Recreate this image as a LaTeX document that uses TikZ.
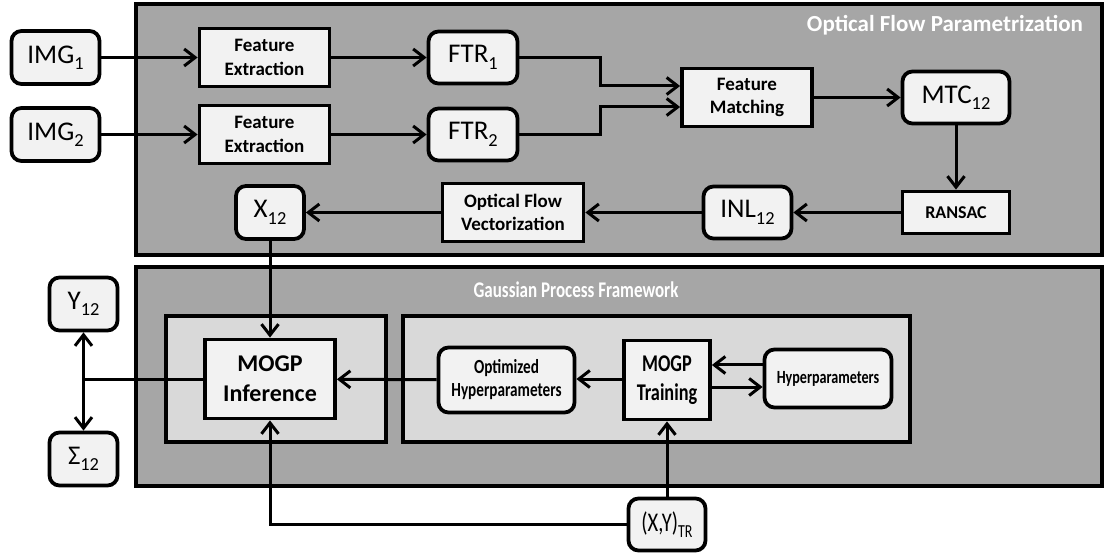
\documentclass[tikz,border=0pt]{standalone}
\usepackage{fontspec}
\setmainfont{Carlito}
\newfontfamily\condfont{Carlito}[FakeStretch=0.76]
\usetikzlibrary{arrows.meta,calc}
\definecolor{panelgray}{HTML}{A6A6A6}
\definecolor{innergray}{HTML}{D9D9D9}
\definecolor{boxfill}{HTML}{F2F2F2}
\newlength\sbsize
\makeatletter
% lowered subscript at about two thirds of the running size
\newcommand{\sbs}[1]{\setlength\sbsize{\f@size pt}\setlength\sbsize{0.68\sbsize}%
  \raisebox{-0.5ex}{\fontsize{\sbsize}{\sbsize}\selectfont #1}}
\makeatother
\tikzset{
  box/.style={draw, line width=1.9pt, fill=boxfill, inner sep=0pt, align=center},
  rbox/.style={box, rounded corners=5pt},
  big/.style={font=\fontsize{13.5}{15}\selectfont},
  proc/.style={box, font=\bfseries\fontsize{9.5}{11.8}\selectfont},
  conn/.style={line width=1.5pt},
  arr/.style={conn, -{Straight Barb[length=5.5pt,width=8.5pt,line width=1.5pt]}},
  panelbox/.style={draw, line width=1.8pt, fill=panelgray},
  innerbox/.style={draw, line width=1.8pt, fill=innergray},
  paneltitle/.style={text=white, font=\bfseries\fontsize{11.5}{13}\selectfont},
}
\begin{document}
\begin{tikzpicture}[x=0.5pt, y=-0.5pt]
\useasboundingbox (0,0) rectangle (1105,556);

% panels
\draw[panelbox] (136,4) rectangle (1102,255);
\draw[panelbox] (136,267) rectangle (1102,486);
\draw[innerbox] (166,316) rectangle (386,442);
\draw[innerbox] (403,316) rectangle (910,442);
\node[paneltitle] (t1) at (945,25) {Optical Flow Parametrization};
\node[paneltitle, font=\condfont\bfseries\fontsize{11.2}{13}\selectfont] (t2) at (576,290) {Gaussian Process Framework};

% optical flow nodes
\node[rbox, big, minimum width=44pt, minimum height=26.5pt] (img1) at (55.5,57.5) {IMG\sbs{1}};
\node[rbox, big, minimum width=44pt, minimum height=26.5pt] (img2) at (55.5,134.5) {IMG\sbs{2}};
\node[proc, minimum width=65pt, minimum height=29pt] (fe1) at (264.5,57.5) {Feature\\Extraction};
\node[proc, minimum width=65pt, minimum height=29pt] (fe2) at (264.5,134.5) {Feature\\Extraction};
\node[rbox, big, minimum width=44.5pt, minimum height=26pt] (ftr1) at (473,57.5) {FTR\sbs{1}};
\node[rbox, big, minimum width=44.5pt, minimum height=26pt] (ftr2) at (473,134.5) {FTR\sbs{2}};
\node[proc, minimum width=65pt, minimum height=29pt] (fm) at (747,97.5) {Feature\\Matching};
\node[rbox, big, minimum width=53.5pt, minimum height=26pt] (mtc) at (956,97.5) {MTC\sbs{12}};
\node[proc, font=\bfseries\fontsize{9}{11}\selectfont, minimum width=53.5pt, minimum height=21pt] (ransac) at (956,212.5) {RANSAC};
\node[rbox, big, minimum width=44pt, minimum height=26pt] (inl) at (747.5,212.5) {INL\sbs{12}};
\node[proc, minimum width=70.5pt, minimum height=29pt] (ofv) at (513,212.5) {Optical Flow\\Vectorization};
\node[rbox, big, minimum width=34pt, minimum height=26.5pt] (x12) at (270,212.5) {X\sbs{12}};

% gaussian process nodes
\node[rbox, big, minimum width=34pt, minimum height=26.5pt] (y12) at (83.5,304) {Y\sbs{12}};
\node[rbox, big, minimum width=34pt, minimum height=26.5pt] (s12) at (83.5,459) {Σ\sbs{12}};
\node[box, font=\bfseries\fontsize{12}{15}\selectfont, minimum width=65pt, minimum height=39.5pt] (inf) at (270,379) {MOGP\\Inference};
\node[rbox, font=\condfont\bfseries\fontsize{10}{11.5}\selectfont, minimum width=68pt, minimum height=32.5pt] (opt) at (506.5,380) {Optimized\\Hyperparameters};
\node[box, font=\condfont\bfseries\fontsize{12}{14.5}\selectfont, minimum width=43pt, minimum height=39.5pt] (trn) at (667,380) {MOGP\\Training};
\node[rbox, font=\condfont\bfseries\fontsize{9.3}{11}\selectfont, minimum width=63.5pt, minimum height=29pt] (hyp) at (828,378.5) {Hyperparameters};
\node[rbox, font=\condfont\fontsize{13.5}{15}\selectfont, minimum width=38.5pt, minimum height=26pt] (xytr) at (667,524.5) {(X,Y)\sbs{TR}};
\coordinate (jn) at (83.5,379);

% connectors, optical flow
\draw[arr] (img1) -- (fe1);
\draw[arr] (img2) -- (fe2);
\draw[arr] (fe1) -- (ftr1);
\draw[arr] (fe2) -- (ftr2);
\draw[arr] (ftr1.east) -- (600,57.5) -- (600,86) -- (fm.west |- 0,86);
\draw[arr] (ftr2.east) -- (600,134.5) -- (600,107) -- (fm.west |- 0,107);
\draw[arr] (fm) -- (mtc);
\draw[arr] (mtc) -- (ransac);
\draw[arr] (ransac) -- (inl);
\draw[arr] (inl) -- (ofv);
\draw[arr] (ofv) -- (x12);

% connectors, gaussian process
\draw[arr] (x12) -- (inf);
\draw[arr] (opt) -- (inf);
\draw[arr] (trn.west |- 0,379) -- (opt.east |- 0,379);
\draw[arr] (hyp.west |- 0,365) -- (trn.east |- 0,365);
\draw[arr] (trn.east |- 0,387) -- (hyp.west |- 0,387);
\draw[arr] (xytr) -- (trn);
\draw[arr] (xytr.west) -| (inf.south);
\draw[conn] (inf.west) -- (jn);
\draw[arr] (jn) -- (y12.south);
\draw[arr] (jn) -- (s12.north);
\end{tikzpicture}
\end{document}
